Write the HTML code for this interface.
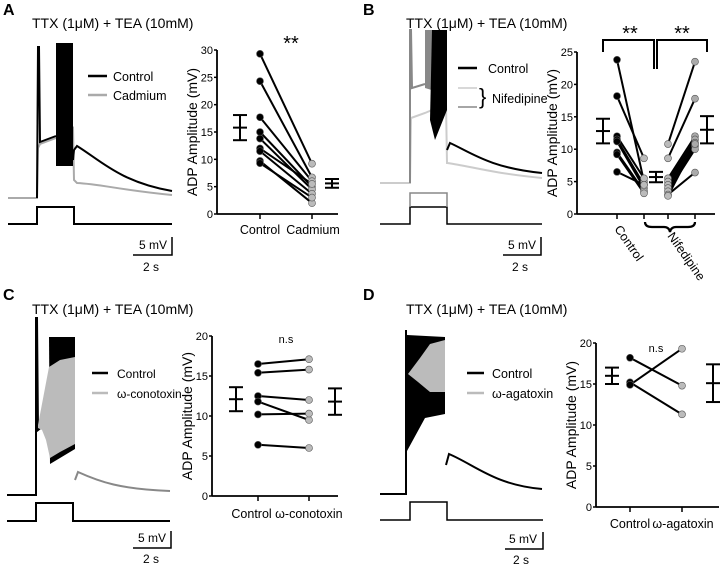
<!DOCTYPE html>
<html><head><meta charset="utf-8"><style>
body{margin:0;background:#fff}
svg{display:block;font-family:"Liberation Sans",Arial,sans-serif}
</style></head><body>
<svg id="fig" width="720" height="564" viewBox="0 0 720 564" xmlns="http://www.w3.org/2000/svg">
<g>
<text x="3" y="15" font-size="16" font-weight="bold">A</text>
<text x="32" y="28" font-size="14">TTX (1μM) + TEA (10mM)</text>
<path fill="none" stroke="#aaa" stroke-width="2" d="M8,198 H37 L38,148 L40,144 L56,138 L73,128 L74,180 L77,183 C100,184 120,190 172,195"/>
<polyline fill="none" stroke="#000" stroke-width="2" points="37,198 38,47 39,47 40,142 56,136"/>
<rect x="56" y="43" width="17" height="123" fill="#000"/>
<path fill="none" stroke="#000" stroke-width="2" d="M73,160 L74,150 L77,146 C100,160 120,182 172,191"/>
<polyline fill="none" stroke="#000" stroke-width="2" points="8,224 37,224 37,207 74,207 74,224 172,224"/>
<line x1="88" y1="76" x2="107" y2="76" stroke="#000" stroke-width="2.5"/><text x="113" y="81" font-size="12.5">Control</text>
<line x1="88" y1="95" x2="107" y2="95" stroke="#aaa" stroke-width="2.5"/><text x="113" y="100" font-size="12.5">Cadmium</text>
<polyline fill="none" stroke="#000" stroke-width="1.5" points="172,237 172,255 133,255"/>
<text x="139" y="249" font-size="12">5 mV</text><text x="143" y="271" font-size="12">2 s</text>
</g>
<g>
<text x="363" y="15" font-size="16" font-weight="bold">B</text>
<text x="406" y="28" font-size="14">TTX (1μM) + TEA (10mM)</text>
<path fill="none" stroke="#ccc" stroke-width="2" d="M380,183 H410 L411,118 L425,113 L446,104 L447,163 C470,166 490,173 542,178"/>
<polyline fill="none" stroke="#888" stroke-width="2" points="410,183 410,30 411,30 412,88 425,84"/>
<polygon fill="#888" points="425,30 438,30 438,92 425,88"/>
<polygon fill="#000" points="432,30 447,30 447,110 435,140 430,120"/>
<path fill="none" stroke="#000" stroke-width="2" d="M447,150 L450,143 C470,152 490,168 542,173"/>
<polyline fill="none" stroke="#000" stroke-width="1.5" points="380,224 410,224 410,207 447,207 447,224 542,224"/>
<polyline fill="none" stroke="#888" stroke-width="1.5" points="410,207 410,193 447,193 447,207"/>
<line x1="458" y1="68" x2="477" y2="68" stroke="#000" stroke-width="2.5"/><text x="488" y="73" font-size="12.5">Control</text>
<line x1="458" y1="88" x2="477" y2="88" stroke="#ccc" stroke-width="1.5"/><line x1="458" y1="107" x2="477" y2="107" stroke="#888" stroke-width="1.5"/>
<text x="479" y="104" font-size="22">}</text><text x="492" y="103" font-size="12.5">Nifedipine</text>
<polyline fill="none" stroke="#000" stroke-width="1.5" points="541,237 541,255 503,255"/>
<text x="508" y="249" font-size="12">5 mV</text><text x="512" y="271" font-size="12">2 s</text>
</g>
<g>
<text x="3" y="300" font-size="16" font-weight="bold">C</text>
<text x="32" y="314" font-size="14">TTX (1μM) + TEA (10mM)</text>
<polyline fill="none" stroke="#000" stroke-width="2" points="7,495 36,495 36,318 37,318 38,430 43,426 48,440"/>
<polygon fill="#000" points="49,337 75,337 75,449 50,464"/>
<polygon fill="#bbb" points="49,367 60,360 75,357 75,444 60,452 50,458 46,440 42,430 38,428 38,425"/>
<path fill="none" stroke="#888" stroke-width="2" d="M75,480 L78,472 C100,482 120,489 170,491"/>
<polyline fill="none" stroke="#000" stroke-width="2" points="7,521 36,521 36,503 73,503 73,521 170,521"/>
<line x1="92" y1="373" x2="108" y2="373" stroke="#000" stroke-width="2.5"/><text x="117" y="378" font-size="12">Control</text>
<line x1="92" y1="393" x2="108" y2="393" stroke="#bbb" stroke-width="2.5"/><text x="117" y="398" font-size="12">ω-conotoxin</text>
<polyline fill="none" stroke="#000" stroke-width="1.5" points="171,531 171,548 133,548"/>
<text x="138" y="542" font-size="12">5 mV</text><text x="143" y="563" font-size="12">2 s</text>
</g>
<g>
<text x="363" y="300" font-size="16" font-weight="bold">D</text>
<text x="406" y="314" font-size="14">TTX (1μM) + TEA (10mM)</text>
<polyline fill="none" stroke="#000" stroke-width="2" points="380,494 406,494 406,330"/>
<polygon fill="#000" points="407,335 445,337 445,414 425,418 407,451"/>
<polygon fill="#bbb" points="408,374 420,358 430,344 445,340 445,392 430,392 418,382"/>
<path fill="none" stroke="#000" stroke-width="2" d="M446,465 L449,454 C475,465 495,485 542,489"/>
<polyline fill="none" stroke="#000" stroke-width="1.5" points="380,520 410,520 410,502 447,502 447,520 543,520"/>
<line x1="467" y1="373" x2="484" y2="373" stroke="#000" stroke-width="2.5"/><text x="492" y="378" font-size="12.5">Control</text>
<line x1="467" y1="393" x2="484" y2="393" stroke="#bbb" stroke-width="2.5"/><text x="492" y="398" font-size="12.5">ω-agatoxin</text>
<polyline fill="none" stroke="#000" stroke-width="1.5" points="543,532 543,549 505,549"/>
<text x="509" y="543" font-size="12">5 mV</text><text x="513" y="564" font-size="12">2 s</text>
</g>
</svg>
<script>
// Panel A data
const aCtrl=[29.3,24.3,17.7,15,13.8,12,11.5,9.7,9.3];
const aCd=[9.2,6.7,6.0,5.0,4.5,5.5,3.7,2.0,3.0];
const aMeans=[15.8,5.6];const aErr=[2.3,0.8];
const aTicks=[0,5,10,15,20,25,30];
// Panel B data
const bCtrl=[23.8,18.2,12,11.5,11.2,9.5,9.2,6.5];
const bNifL=[5,8.6,5.5,4.5,4,3.5,3.2,4.5];
const bNifR=[10.8,8.6,5.5,5,4.5,4,3.5,3,2.8];
const bWash=[23.5,17.8,12,11.5,11,10.5,10,6.4,10.8];
const bMeans=[12.8,5.7,13.0];const bErr=[1.9,0.8,2.1];
const bTicks=[0,5,10,15,20,25];
// Panel C data
const cCtrl=[16.5,15.4,12.5,11.8,10.2,6.4];
const cCono=[17.1,15.8,12.0,9.5,10.3,6.0];
const cMeans=[12.1,11.8];const cErr=[1.5,1.65];
const cTicks=[0,5,10,15,20];
// Panel D data
const dCtrl=[18.2,15.2,14.9];
const dAga=[14.8,11.3,19.3];
const dMeans=[16.0,15.1];const dErr=[1.0,2.3];
const dTicks=[0,5,10,15,20];

const svg=document.getElementById('fig');const NS='http://www.w3.org/2000/svg';
function mk(tag,at,parent){const e=document.createElementNS(NS,tag);for(const k in at)e.setAttribute(k,at[k]);(parent||svg).appendChild(e);return e;}
function axis(ax,y0,y1,vmax,xend,ticks,name){
  const g=mk('g',{});
  
  
  const sy=v=>y0-(y0-y1)*v/vmax;
  mk('line',{x1:ax,y1:sy(vmax),x2:ax,y2:y0,stroke:'#000','stroke-width':1.8},g);
  mk('line',{x1:ax,y1:y0,x2:xend,y2:y0,stroke:'#000','stroke-width':1.8},g);
  ticks.forEach(t=>{mk('line',{x1:ax-3,y1:sy(t),x2:ax,y2:sy(t),stroke:'#000','stroke-width':1.5},g);
    const tx=mk('text',{x:ax-4,y:sy(t)+4,'font-size':11,'text-anchor':'end'},g);tx.textContent=t;
    
    });
  const yt=mk('text',{x:0,y:0,'font-size':14,'text-anchor':'middle',transform:`translate(${ax-20},${(y0+sy(vmax))/2}) rotate(-90)`},g);
  yt.textContent='ADP Amplitude (mV)';
  
  
  return sy;}
function pairs(sy,x1,x2,v1,v2,f1,f2){v1.forEach((v,i)=>{const l=mk('line',{x1:x1,y1:sy(v),x2:x2,y2:sy(v2[i]),stroke:'#000','stroke-width':2});
  
  });
  v1.forEach(v=>{const c=mk('circle',{cx:x1,cy:sy(v),r:3.5,fill:f1,stroke:'#555','stroke-width':0.6});
    
    });
  v2.forEach(v=>{const c=mk('circle',{cx:x2,cy:sy(v),r:3.5,fill:f2,stroke:'#555','stroke-width':0.6});
    
    });}
function ebar(sy,x,m,e){const g=mk('g',{stroke:'#000','stroke-width':2});
  
  
  mk('line',{x1:x,y1:sy(m+e),x2:x,y2:sy(m-e)},g);
  [m+e,m,m-e].forEach(v=>mk('line',{x1:x-7,y1:sy(v),x2:x+7,y2:sy(v)},g));}
function lab(x,y,t,name,fs){const e=mk('text',{x:x,y:y,'font-size':fs||12.5,'text-anchor':'middle'});e.textContent=t;
  
  return e;}
// A
let sy=axis(217,214,50,30,338,aTicks,'chart-a');
[260,312].forEach(x=>mk('line',{x1:x,y1:214,x2:x,y2:219,stroke:'#000','stroke-width':1.5}));
pairs(sy,260,312,aCtrl,aCd,'#000','#bbb');
ebar(sy,240,aMeans[0],aErr[0]);ebar(sy,332,aMeans[1],aErr[1]);
lab(260,234,'Control','x-label-control-a');lab(313,234,'Cadmium','x-label-cadmium');
lab(291,50,'**','significance-a',20);
// B
sy=axis(577,214,52,25,715,bTicks,'chart-b');
[617,644,668,695].forEach(x=>mk('line',{x1:x,y1:214,x2:x,y2:219,stroke:'#000','stroke-width':1.5}));
pairs(sy,617,644,bCtrl,bNifL,'#000','#bbb');
pairs(sy,668,695,bNifR,bWash,'#bbb','#aaa');
ebar(sy,603,bMeans[0],bErr[0]);ebar(sy,656,bMeans[1],bErr[1]);ebar(sy,707,bMeans[2],bErr[2]);
const br=mk('path',{d:'M603,52 V40 H654 V69 M657,69 V40 H707 V52',fill:'none',stroke:'#000','stroke-width':2});


lab(630,40,'**','significance-b1',20);lab(682,40,'**','significance-b2',20);
const brace=mk('path',{d:'M645,222 Q645,227 652,227 H664 Q669,227 670,232 Q671,227 676,227 H688 Q695,227 695,222',fill:'none',stroke:'#000','stroke-width':2.2});


let t=mk('text',{x:0,y:0,'font-size':12.5,transform:'translate(614,229) rotate(55)'});t.textContent='Control';


t=mk('text',{x:0,y:0,'font-size':12.5,transform:'translate(667,236) rotate(55)'});t.textContent='Nifedipine';


// C
sy=axis(212,496,336,20,338,cTicks,'chart-c');
[258,309].forEach(x=>mk('line',{x1:x,y1:496,x2:x,y2:501,stroke:'#000','stroke-width':1.5}));
pairs(sy,258,309,cCtrl,cCono,'#000','#bbb');
ebar(sy,236,cMeans[0],cErr[0]);ebar(sy,335,cMeans[1],cErr[1]);
lab(287,518,'Control ω-conotoxin','x-labels-c');
lab(286,343,'n.s','significance-c',11);
// D
sy=axis(596,507,343,20,719,dTicks,'chart-d');
[630,682].forEach(x=>mk('line',{x1:x,y1:507,x2:x,y2:512,stroke:'#000','stroke-width':1.5}));
pairs(sy,630,682,dCtrl,dAga,'#000','#bbb');
ebar(sy,612,dMeans[0],dErr[0]);ebar(sy,713,dMeans[1],dErr[1]);
lab(630,528,'Control','x-label-control-d');lab(683,528,'ω-agatoxin','x-label-agatoxin');
lab(656,352,'n.s','significance-d',11);
</script>
</body></html>
